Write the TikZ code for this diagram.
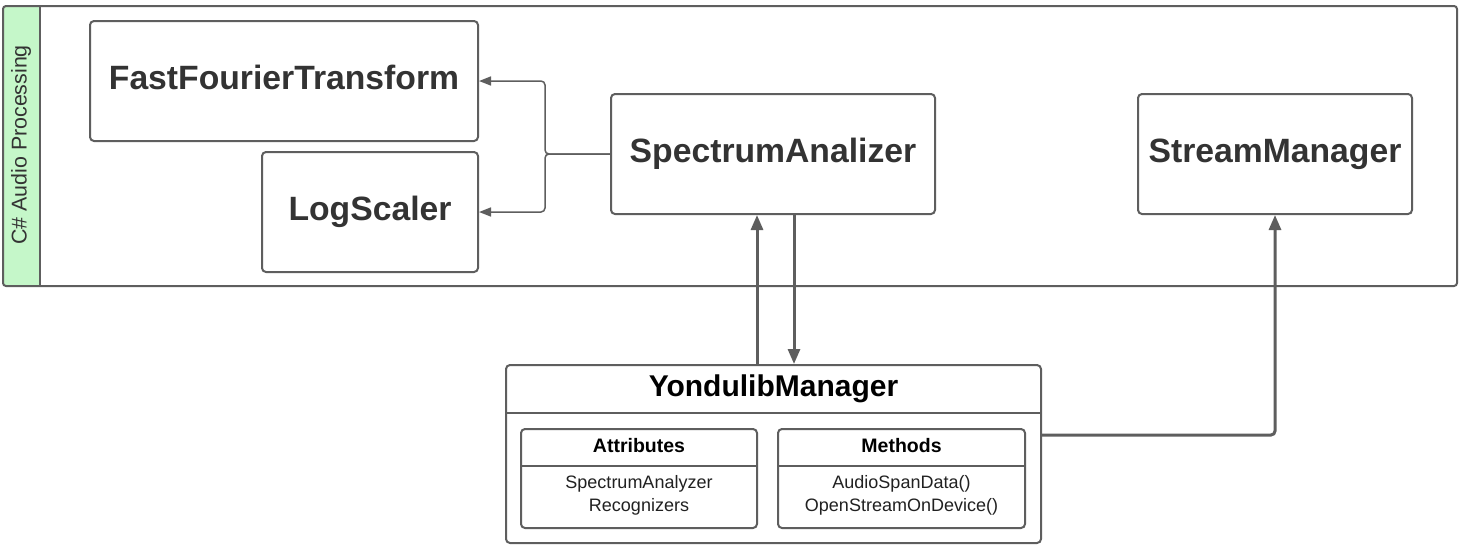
\documentclass[tikz,border=0pt]{standalone}
\usepackage{fontspec}
\setmainfont{Liberation Sans}
\usetikzlibrary{arrows.meta,calc}
\definecolor{edgec}{RGB}{94,94,94}
\definecolor{txt}{RGB}{51,51,51}
\definecolor{band}{RGB}{197,247,201}
\begin{document}
\begin{tikzpicture}[x=1pt,y=-1pt,
 box/.style={draw=edgec,line width=2pt,rounded corners=4pt,fill=white,inner sep=0pt,text=txt,text height=24.3pt,text depth=7.1pt,font=\bfseries\fontsize{33.7}{40}\selectfont},
 frame/.style={draw=edgec,line width=2pt,rounded corners=4pt,inner sep=0pt},
 thinarrow/.style={draw=edgec,line width=1.5pt,rounded corners=4pt,-{Triangle[length=12pt,width=9pt]}},
 thickarrow/.style={draw=edgec,line width=3pt,rounded corners=4pt,-{Triangle[length=15pt,width=12pt]}},
 ttl/.style={inner sep=0pt,text=black,font=\bfseries\fontsize{19.5}{23}\selectfont},
 body/.style={inner sep=0pt,text=black!87,align=center,font=\fontsize{18}{23}\selectfont},
]
\useasboundingbox (0,0) rectangle (1462,550);
% container
\fill[band,rounded corners=3pt] (3,6) rectangle (40,286);
\fill[white] (40,6) rectangle (1457,286);
\draw[edgec,line width=2pt] (40,6) -- (40,286);
\node[frame,rounded corners=3pt,minimum width=1454pt,minimum height=280pt] (container) at (730,146) {};
\node[rotate=90,inner sep=0pt,text=txt,font=\fontsize{21.4}{25}\selectfont] (lane) at (21,145) {C\# Audio Processing};
% classes
\node[box,minimum width=388pt,minimum height=120pt] (fft) at (284,81) {FastFourierTransform};
\node[box,minimum width=216pt,minimum height=120pt] (log) at (370,212) {LogScaler};
\node[box,minimum width=324pt,minimum height=120pt] (sa) at (773,154) {SpectrumAnalizer};
\node[box,minimum width=274pt,minimum height=120pt] (sm) at (1275,154) {StreamManager};
% YondulibManager
\node[frame,fill=white,minimum width=535pt,minimum height=178pt] (ym) at (773.5,454) {};
\node[inner sep=0pt,text=black,font=\bfseries\fontsize{30}{36}\selectfont] (ymt) at (773.5,389) {YondulibManager};
\draw[edgec,line width=2pt] (ym.west |- 0,413) -- (ym.east |- 0,413);
\node[frame,minimum width=236pt,minimum height=99pt] (att) at (639,478.5) {};
\draw[edgec,line width=2pt] (att.west |- 0,466) -- (att.east |- 0,466);
\node[ttl] (attt) at (639,446) {Attributes};
\node[body] (attb) at (639,495.5) {SpectrumAnalyzer\\Recognizers};
\node[frame,minimum width=247pt,minimum height=99pt] (met) at (901.5,478.5) {};
\draw[edgec,line width=2pt] (met.west |- 0,466) -- (met.east |- 0,466);
\node[ttl] (mett) at (901.5,446) {Methods};
\node[body] (metb) at (901.5,495.5) {AudioSpanData()\\OpenStreamOnDevice()};
% connectors
\coordinate (j) at (545,154);
\draw[thinarrow] (sa.west) -- (j) |- (fft.east);
\draw[thinarrow] (sa.west) -- (j) |- (log.east);
\draw[thickarrow] (ym.north -| 757,0) -- (sa.south -| 757,0);
\draw[thickarrow] (sa.south -| 794,0) -- (ym.north -| 794,0);
\draw[thickarrow] (ym.east |- 0,435) -| (sm.south);
\end{tikzpicture}
\end{document}
